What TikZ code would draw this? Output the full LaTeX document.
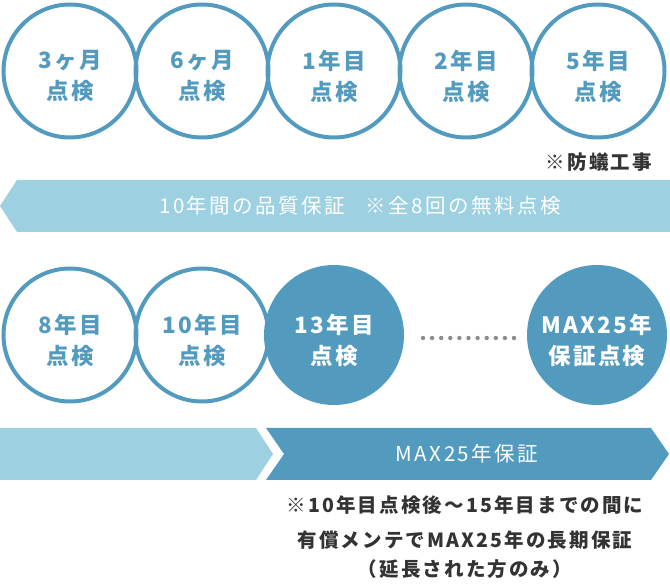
\documentclass[tikz,border=0pt]{standalone}
\usepackage{fontspec}
\newfontfamily\jp{Noto Sans CJK JP}
\definecolor{cblue}{HTML}{539BBE}
\definecolor{clight}{HTML}{9DD0E0}
\definecolor{cdark}{HTML}{333333}
\definecolor{cdot}{HTML}{8C8C8C}
\tikzset{
  ring/.style={circle, draw=cblue, line width=4pt, minimum size=133pt, inner sep=0pt},
  disc/.style={circle, fill=cblue, minimum size=140pt, inner sep=0pt},
  ringtext/.style={align=center, text=cblue, inner sep=0pt,
    font=\jp\bfseries\fontsize{22.5}{31}\selectfont\addfontfeatures{LetterSpace=10}},
  disctext/.style={ringtext, text=white},
  bandtext/.style={text=white, inner sep=0pt,
    font=\jp\fontsize{20.5}{24}\selectfont\addfontfeatures{LetterSpace=12}},
  notetext/.style={text=cdark, inner sep=0pt,
    font=\jp\bfseries\fontsize{19.5}{24}\selectfont\addfontfeatures{LetterSpace=11}},
}
\begin{document}
\begin{tikzpicture}[x=1pt,y=-1pt]
\useasboundingbox (0,0) rectangle (670,585);
% top row
\node[ring] (c1) at (70,71) {};
\node[ring] (c2) at (202,71) {};
\node[ring] (c3) at (334,71) {};
\node[ring] (c4) at (466,71) {};
\node[ring] (c5) at (598,71) {};
\node[ringtext] (t1) at ([yshift=-5pt]c1.center) {3ヶ月\\点検};
\node[ringtext] (t2) at ([yshift=-5pt]c2.center) {6ヶ月\\点検};
\node[ringtext] (t3) at ([yshift=-5pt]c3.center) {1年目\\点検};
\node[ringtext] (t4) at ([yshift=-5pt]c4.center) {2年目\\点検};
\node[ringtext] (t5) at ([yshift=-5pt]c5.center) {5年目\\点検};
\node[notetext] (bo) at (599,162) {※防蟻工事};
% top band
\fill[clight] (17,180) -- (670,180) -- (670,232) -- (17,232) -- (0,206) -- cycle;
\node[bandtext] (bt1) at (360,206) {10年間の品質保証\hspace{1em}※全8回の無料点検};
% bottom row
\node[ring] (d1) at (70,335) {};
\node[ring] (d2) at (202,335) {};
\node[disc] (d3) at (334,335) {};
\node[disc] (d4) at (597,335) {};
\node[ringtext] (u1) at ([yshift=-5pt]d1.center) {8年目\\点検};
\node[ringtext] (u2) at ([yshift=-5pt]d2.center) {10年目\\点検};
\node[disctext] (u3) at ([yshift=-5pt]d3.center) {13年目\\点検};
\node[disctext] (u4) at ([yshift=-5pt]d4.center) {MAX25年\\保証点検};
\foreach \i in {0,...,10} \fill[cdot] (423+9.1*\i,338) circle (2.2);
% bottom band
\fill[clight] (0,428) -- (256,428) -- (273,454) -- (256,480) -- (0,480) -- cycle;
\fill[cblue] (266,428) -- (651,428) -- (669,454) -- (651,480) -- (266,480) -- (284,454) -- cycle;
\node[bandtext] (bt2) at (467,454) {MAX25年保証};
% note
\node[notetext] (n1) at (465,505) {※10年目点検後～15年目までの間に};
\node[notetext] (n2) at (465,540) {有償メンテでMAX25年の長期保証};
\node[notetext] (n3) at (465,569) {（延長された方のみ）};
\end{tikzpicture}
\end{document}
